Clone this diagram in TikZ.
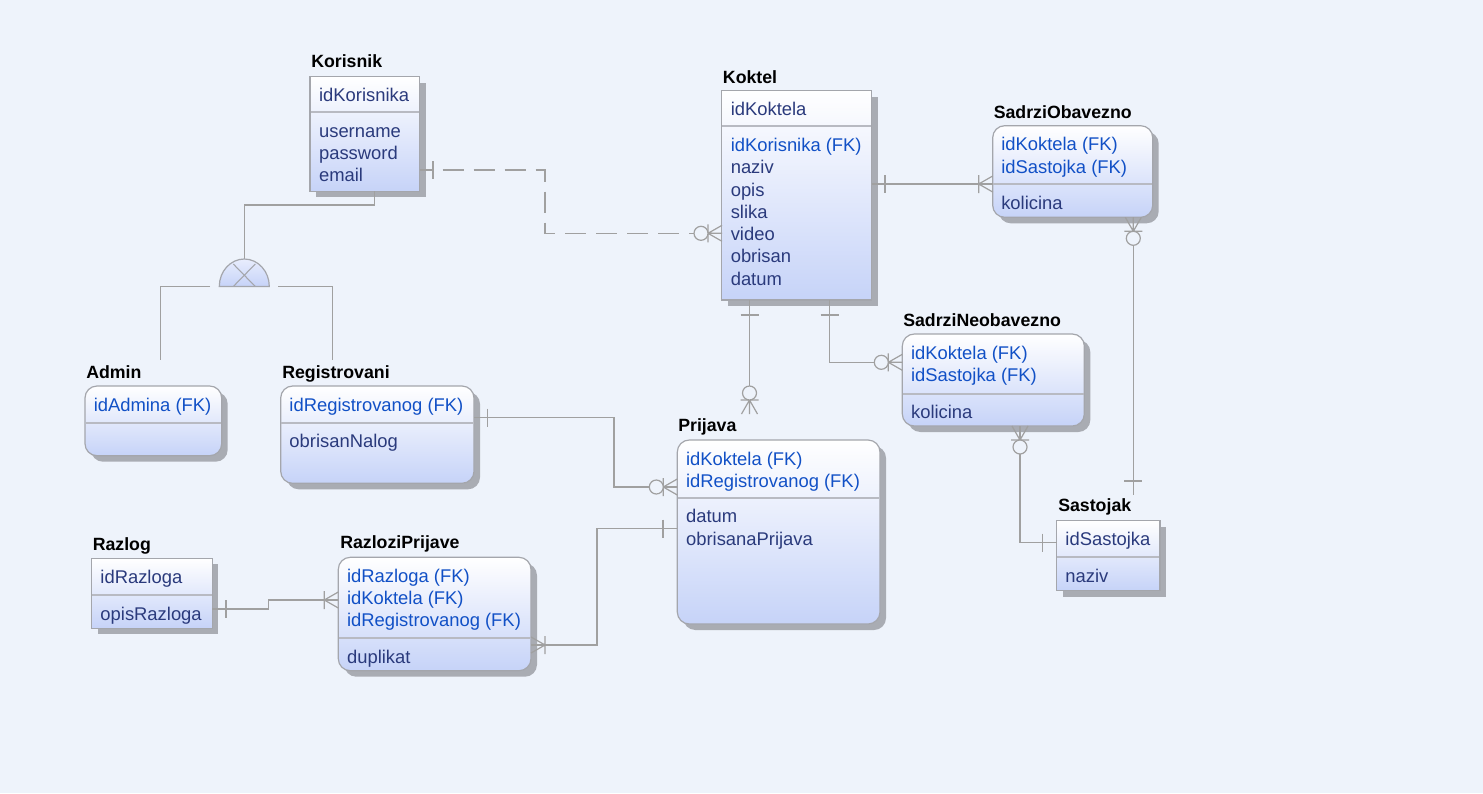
\documentclass[tikz,border=0pt]{standalone}
\usepackage{fontspec}
\setmainfont{Liberation Sans}
\definecolor{bg}{HTML}{EEF3FB}
\definecolor{navy}{HTML}{2A3A7C}
\definecolor{fkblue}{HTML}{1150C6}
\definecolor{boxblue}{HTML}{C6D3F8}
\definecolor{isatopc}{HTML}{E8EDFD}
\definecolor{borderc}{HTML}{A4A6AC}
\definecolor{divc}{HTML}{B8BAC2}
\definecolor{shadowc}{HTML}{A9ACB3}
\definecolor{connc}{HTML}{A0A0A0}
\tikzset{
  ebox/.style={draw=borderc, line width=0.9pt, top color=white, bottom color=boxblue, inner sep=0pt, outer sep=0pt},
  rd/.style={rounded corners=9pt},
  sq/.style={},
  attr/.style={anchor=base west, inner sep=0pt, text=navy, font=\fontsize{13.8}{16}\selectfont},
  fk/.style={attr, text=fkblue},
  etitle/.style={anchor=base west, inner sep=0pt, text=black, font=\fontsize{13.3}{16}\selectfont\bfseries},
  conn/.style={draw=connc, line width=0.9pt},
  crowmany/.pic={\draw[conn] (0,0)--(14,8) (0,0)--(14,0) (0,0)--(14,-8) (0,-9)--(0,9);},
  crowzero/.pic={\draw[conn] (0,0)--(14,8) (0,0)--(14,0) (0,0)--(14,-8) (0,-9)--(0,9);
                 \filldraw[conn, fill=bg] (-7,0) circle[radius=7];},
  onebar/.pic={\draw[conn] (0,-9)--(0,9);},
}
\newcommand\ent[7]{%
  \fill[shadowc,#7] (#2+6,#3+6) rectangle (#4+6,#5+6);
  \node[ebox,#7,anchor=north west,minimum width={(#4-(#2))*0.75pt},minimum height={(#5-(#3))*0.75pt}] (#1) at (#2,#3) {};
  \draw[divc, line width=1.4pt] (#2+0.6,#6) -- (#4-0.6,#6);
}
\begin{document}
\begin{tikzpicture}[x=0.75pt,y=-0.75pt]
\useasboundingbox (0,0) rectangle (1483,793);
\fill[bg] (0,0) rectangle (1483,793);

% ---------- entities ----------
\ent{korisnik}{310}{76.7}{419.5}{191.3}{112.3}{sq}
\node[etitle] (t-korisnik) at (311,67) {Korisnik};
\node[attr] (korisnik-1) at (318.8,101.7) {idKorisnika};
\node[attr] (korisnik-2) at (318.8,137.3) {username};
\node[attr] (korisnik-3) at (318.8,159.6) {password};
\node[attr] (korisnik-4) at (318.8,181.9) {email};

\ent{koktel}{721.7}{90.7}{871.7}{300}{126.3}{sq}
\node[etitle] (t-koktel) at (722.7,83.5) {Koktel};
\node[attr] (koktel-1) at (730.5,115.7) {idKoktela};
\node[fk]   (koktel-2) at (730.5,151.5) {idKorisnika (FK)};
\node[attr] (koktel-3) at (730.5,173.8) {naziv};
\node[attr] (koktel-4) at (730.5,196.0) {opis};
\node[attr] (koktel-5) at (730.5,218.3) {slika};
\node[attr] (koktel-6) at (730.5,240.6) {video};
\node[attr] (koktel-7) at (730.5,262.9) {obrisan};
\node[attr] (koktel-8) at (730.5,285.2) {datum};

\ent{so}{992.7}{125.7}{1152.7}{217.3}{184.3}{rd}
\node[etitle] (t-so) at (993.5,118.3) {SadrziObavezno};
\node[fk]   (so-1) at (1001,150.7) {idKoktela (FK)};
\node[fk]   (so-2) at (1001,173.0) {idSastojka (FK)};
\node[attr] (so-3) at (1001,209.3) {kolicina};

\ent{sn}{902.3}{334}{1084.3}{426}{393.7}{rd}
\node[etitle] (t-sn) at (903,326) {SadrziNeobavezno};
\node[fk]   (sn-1) at (910.8,359.0) {idKoktela (FK)};
\node[fk]   (sn-2) at (910.8,381.3) {idSastojka (FK)};
\node[attr] (sn-3) at (910.8,418.7) {kolicina};

\ent{sastojak}{1056.7}{520.7}{1160}{590.7}{557.3}{sq}
\node[etitle] (t-sastojak) at (1058,511) {Sastojak};
\node[attr] (sastojak-1) at (1065.2,545.7) {idSastojka};
\node[attr] (sastojak-2) at (1065.2,582.3) {naziv};

\ent{prijava}{677.3}{440}{880}{624}{497.7}{rd}
\node[etitle] (t-prijava) at (678,431.5) {Prijava};
\node[fk]   (prijava-1) at (685.8,465.0) {idKoktela (FK)};
\node[fk]   (prijava-2) at (685.8,487.3) {idRegistrovanog (FK)};
\node[attr] (prijava-3) at (685.8,522.7) {datum};
\node[attr] (prijava-4) at (685.8,545.0) {obrisanaPrijava};

\ent{registrovani}{280.7}{386}{474}{483.3}{422.7}{rd}
\node[etitle] (t-registrovani) at (282,378.3) {Registrovani};
\node[fk]   (registrovani-1) at (289.2,411) {idRegistrovanog (FK)};
\node[attr] (registrovani-2) at (289.2,447.7) {obrisanNalog};

\ent{admin}{85}{386}{221.7}{455.7}{422.7}{rd}
\node[etitle] (t-admin) at (86,378.3) {Admin};
\node[fk]   (admin-1) at (93.5,411) {idAdmina (FK)};

\ent{razlog}{91.7}{558.3}{212.3}{628.3}{595.3}{sq}
\node[etitle] (t-razlog) at (92.5,550.7) {Razlog};
\node[attr] (razlog-1) at (100.2,583.3) {idRazloga};
\node[attr] (razlog-2) at (100.2,620.3) {opisRazloga};

\ent{rp}{338.3}{557.3}{531}{670.7}{638}{rd}
\node[etitle] (t-rp) at (340,548.3) {RazloziPrijave};
\node[fk]   (rp-1) at (346.8,582.3) {idRazloga (FK)};
\node[fk]   (rp-2) at (346.8,604.6) {idKoktela (FK)};
\node[fk]   (rp-3) at (346.8,626.9) {idRegistrovanog (FK)};
\node[attr] (rp-4) at (346.8,663.0) {duplikat};

% ---------- inheritance ----------
\coordinate (isa) at (244.3,286.5);
\coordinate (isatop) at (244.3,259);
\coordinate (isaL) at (210,286.5);
\coordinate (isaR) at (278.3,286.5);
\coordinate (adminlink) at (160.7,360);
\coordinate (reglink) at (332.3,360);
\draw[conn] (korisnik.south -| 374.3,0) |- (244.3,205) -- (isatop);
\draw[conn] (isaL) -| (adminlink);
\draw[conn] (isaR) -| (reglink);
\path[draw=borderc, line width=0.9pt, top color=isatopc, bottom color=boxblue]
  (219.3,286.5) arc[start angle=180,end angle=360,x radius=25,y radius=27.5] -- cycle;
\draw[borderc, line width=0.8pt] (233.3,286.5)--(255.3,264) (255.3,286.5)--(233.3,264);

% ---------- relationships ----------
\coordinate (prijavalink) at (749.5,413);
\coordinate (sastojaklink) at (1133.3,495);

\draw[conn, dash pattern=on 15.75pt off 7.5pt, dash phase=6pt]
  (korisnik.east |- 0,170) -| (545,233.3) -- (koktel.west |- 0,233.3);
\draw[conn] (koktel.east |- 0,184) -- (so.west |- 0,184);
\draw[conn] (koktel.south -| 749.5,0) -- (prijavalink);
\draw[conn] (koktel.south -| 829.7,0) |- (sn.west |- 0,362.3);
\draw[conn] (sn.south -| 1020,0) |- (sastojak.west |- 0,542.7);
\draw[conn] (so.south -| 1133.3,0) -- (sastojaklink);
\draw[conn] (registrovani.east |- 0,417.7) -| (614,487) -- (prijava.west |- 0,487);
\draw[conn] (prijava.west |- 0,528.7) -| (597,645) -- (rp.east |- 0,645);
\draw[conn] (razlog.east |- 0,609) -| (268.7,600) -- (rp.west |- 0,600);

% ---------- cardinality marks ----------
\pic at (433,170) {onebar};
\pic at (708,233.3) {crowzero};
\pic at (885,184) {onebar};
\pic at (978.7,184) {crowmany};
\pic[rotate=90] at (749.5,315) {onebar};
\pic[rotate=-90] at (749.5,400) {crowzero};
\pic[rotate=90] at (829.7,315) {onebar};
\pic at (888.3,362.3) {crowzero};
\pic[rotate=90] at (1020,440) {crowzero};
\pic at (1042.3,542.7) {onebar};
\pic[rotate=90] at (1133.3,231.3) {crowzero};
\pic[rotate=90] at (1133.3,481) {onebar};
\pic at (487.3,417.7) {onebar};
\pic at (663.3,487) {crowzero};
\pic at (663,528.7) {onebar};
\pic[rotate=180] at (545,645) {crowmany};
\pic at (226,609) {onebar};
\pic at (324.3,600) {crowmany};
\end{tikzpicture}
\end{document}
